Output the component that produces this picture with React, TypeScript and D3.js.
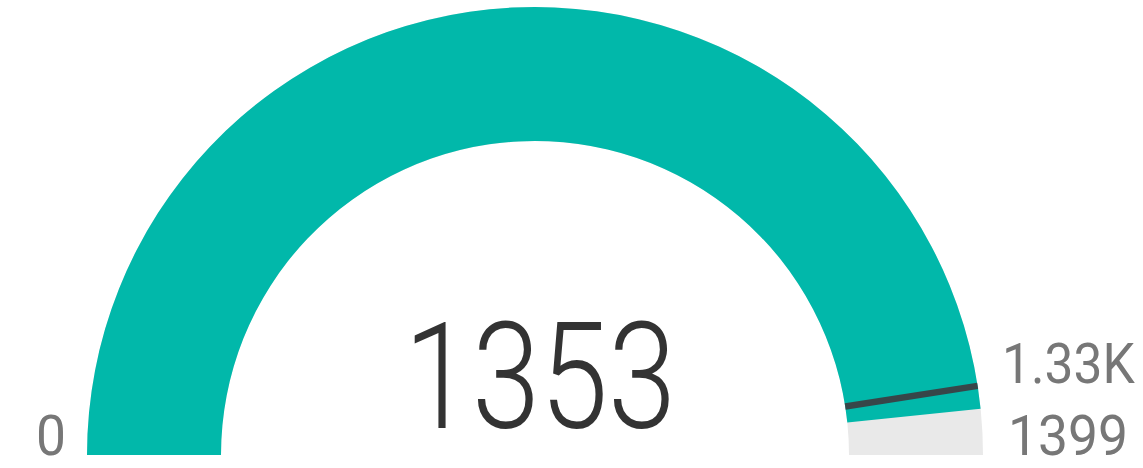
import React from "react";
import * as d3 from "d3";

const minValue = 0;
const maxValue = 1399;
const actualValue = 1353;
const targetValue = 1330;
const minLabel = "0";
const maxLabel = "1399";
const targetLabel = "1.33K";
const centerLabel = "1353";

export default function App() {
  const width = 1143;
  const height = 468;
  const cx = 535;
  const cy = 455;
  const outerR = 448;
  const innerR = 314;

  const angle = d3
    .scaleLinear()
    .domain([minValue, maxValue])
    .range([-Math.PI / 2, Math.PI / 2]);

  const arc = d3.arc<any>().innerRadius(innerR).outerRadius(outerR);

  const bg = arc({ startAngle: angle(minValue), endAngle: angle(maxValue) } as any) || "";
  const fill = arc({ startAngle: angle(minValue), endAngle: angle(actualValue) } as any) || "";

  const ta = angle(targetValue);
  const tx1 = cx + innerR * Math.sin(ta);
  const ty1 = cy - innerR * Math.cos(ta);
  const tx2 = cx + outerR * Math.sin(ta);
  const ty2 = cy - outerR * Math.cos(ta);

  const font = "Roboto, 'DejaVu Sans', sans-serif";

  return (
    <svg
      width={width}
      height={height}
      style={{ position: "absolute", left: 0, top: 0 }}
    >
      <g transform={`translate(${cx},${cy})`}>
        <path d={bg} fill="#E9E9E9" />
        <path d={fill} fill="#01B8AA" />
      </g>
      <line
        x1={tx1}
        y1={ty1}
        x2={tx2}
        y2={ty2}
        stroke="#374649"
        strokeWidth={6.5}
      />
      <text
        x={404}
        y={428}
        textAnchor="start"
        fontFamily={font}
        fontWeight={300}
        fontSize={149}
        fill="#333333"
        textLength={272}
        lengthAdjust="spacingAndGlyphs"
      >
        {centerLabel}
      </text>
      <text
        x={36}
        y={455}
        textAnchor="start"
        fontFamily={font}
        fontWeight={400}
        fontSize={56}
        fill="#777777"
        textLength={30}
        lengthAdjust="spacingAndGlyphs"
      >
        {minLabel}
      </text>
      <text
        x={1008}
        y={455}
        textAnchor="start"
        fontFamily={font}
        fontWeight={400}
        fontSize={56}
        fill="#777777"
        textLength={120}
        lengthAdjust="spacingAndGlyphs"
      >
        {maxLabel}
      </text>
      <g transform="translate(1002,383) scale(0.92,1)">
        <text
          x={0}
          y={0}
          textAnchor="start"
          fontFamily={font}
          fontWeight={400}
          fontSize={56}
          fill="#777777"
        >
          {targetLabel}
        </text>
      </g>
    </svg>
  );
}
